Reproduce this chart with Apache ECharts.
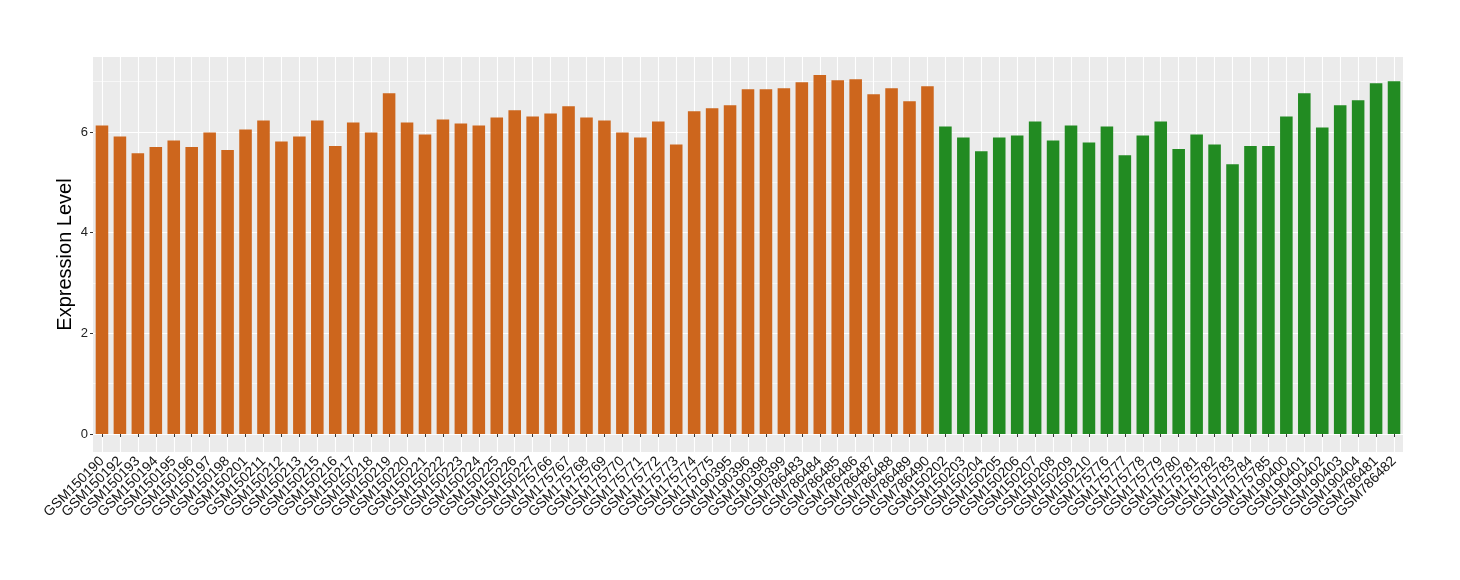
<!DOCTYPE html>
<html>
<head>
<meta charset="utf-8">
<script src="https://cdn.jsdelivr.net/npm/echarts@6/dist/echarts.min.js"></script>
<style>
  html, body { margin: 0; background: #fff; }
  #chart { width: 1460px; height: 580px; }
</style>
</head>
<body>
<div id="chart"></div>
<script>
/* ── samples, group 1 (orange) ── */
const orangeSamples = [
  'GSM150190', 'GSM150192', 'GSM150193', 'GSM150194', 'GSM150195', 'GSM150196',
  'GSM150197', 'GSM150198', 'GSM150201', 'GSM150211', 'GSM150212', 'GSM150213',
  'GSM150215', 'GSM150216', 'GSM150217', 'GSM150218', 'GSM150219', 'GSM150220',
  'GSM150221', 'GSM150222', 'GSM150223', 'GSM150224', 'GSM150225', 'GSM150226',
  'GSM150227', 'GSM175766', 'GSM175767', 'GSM175768', 'GSM175769', 'GSM175770',
  'GSM175771', 'GSM175772', 'GSM175773', 'GSM175774', 'GSM175775', 'GSM190395',
  'GSM190396', 'GSM190398', 'GSM190399', 'GSM786483', 'GSM786484', 'GSM786485',
  'GSM786486', 'GSM786487', 'GSM786488', 'GSM786489', 'GSM786490'
];
const orangeValues = [
  6.13, 5.91, 5.58, 5.70, 5.83, 5.70, 5.99, 5.64, 6.05, 6.23, 5.81, 5.91,
  6.23, 5.72, 6.19, 5.99, 6.77, 6.19, 5.95, 6.25, 6.17, 6.13, 6.29, 6.43,
  6.31, 6.37, 6.51, 6.29, 6.23, 5.99, 5.89, 6.21, 5.75, 6.41, 6.47, 6.53,
  6.85, 6.85, 6.87, 6.99, 7.13, 7.03, 7.05, 6.75, 6.87, 6.61, 6.91
];

/* ── samples, group 2 (green) ── */
const greenSamples = [
  'GSM150202', 'GSM150203', 'GSM150204', 'GSM150205', 'GSM150206', 'GSM150207',
  'GSM150208', 'GSM150209', 'GSM150210', 'GSM175776', 'GSM175777', 'GSM175778',
  'GSM175779', 'GSM175780', 'GSM175781', 'GSM175782', 'GSM175783', 'GSM175784',
  'GSM175785', 'GSM190400', 'GSM190401', 'GSM190402', 'GSM190403', 'GSM190404',
  'GSM786481', 'GSM786482'
];
const greenValues = [
  6.11, 5.89, 5.62, 5.89, 5.93, 6.21, 5.83, 6.13, 5.79, 6.11, 5.54, 5.93,
  6.21, 5.66, 5.95, 5.75, 5.36, 5.72, 5.72, 6.31, 6.77, 6.09, 6.53, 6.63,
  6.97, 7.01
];

const majorTicks = [0, 2, 4, 6];
const minorTicks = [1, 3, 5, 7];
const yMin = -0.357;
const yMax = 7.49;

const ORANGE = '#CD661D';
const GREEN = '#228B22';
const FONT = '"Liberation Sans", Arial, sans-serif';

const categories = orangeSamples.concat(greenSamples);
const barData = orangeValues.map(v => ({ value: v, itemStyle: { color: ORANGE } }))
  .concat(greenValues.map(v => ({ value: v, itemStyle: { color: GREEN } })));

const chart = echarts.init(document.getElementById('chart'));
chart.setOption({
  animation: false,
  grid: {
    left: 93, right: 57, top: 57, bottom: 128,
    show: true, backgroundColor: '#EBEBEB', borderWidth: 0,
  },
  xAxis: {
    type: 'category',
    data: categories,
    axisLine: { show: false },
    axisTick: { show: true, alignWithLabel: true, length: 3, lineStyle: { color: '#333', width: 1 } },
    splitLine: { show: true, alignWithLabel: true, lineStyle: { color: '#fff', width: 1.1 } },
    axisLabel: {
      interval: 0, rotate: 45, margin: 7,
      fontSize: 14, color: '#111', fontFamily: FONT,
    },
  },
  yAxis: [
    {
      type: 'value', min: yMin, max: yMax,
      name: 'Expression Level', nameLocation: 'middle', nameGap: 18, nameMoveOverlap: false,
      nameTextStyle: { fontSize: 20, color: '#000', fontFamily: FONT },
      axisLine: { show: false },
      axisTick: { show: true, length: 3, customValues: majorTicks, lineStyle: { color: '#333' } },
      axisLabel: { customValues: majorTicks, fontSize: 13, color: '#222', margin: 5, fontFamily: FONT },
      splitLine: { show: true, lineStyle: { color: '#fff', width: 1.1 } },
    },
    {
      type: 'value', min: yMin, max: yMax,
      axisLine: { show: false },
      axisTick: { show: false, customValues: minorTicks },
      axisLabel: { show: false, customValues: minorTicks },
      splitLine: { show: true, lineStyle: { color: '#fff', width: 0.6 } },
    },
  ],
  series: [{
    type: 'bar',
    data: barData,
    barCategoryGap: '30%',
    yAxisIndex: 0,
  }],
});
</script>
</body>
</html>
